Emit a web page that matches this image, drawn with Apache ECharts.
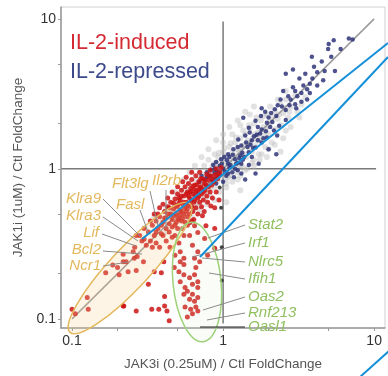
<!DOCTYPE html>
<html><head><meta charset="utf-8">
<script src="https://cdn.jsdelivr.net/npm/echarts@6/dist/echarts.min.js"></script>
<style>html,body{margin:0;padding:0;background:#fff}#c{width:388px;height:376px}</style>
</head><body><div id="c"></div>
<script>
// ---- data (fold changes: [JAK3i, JAK1i]) ----
const xTickLabels = [0.1, 1, 10];
const yTickLabels = [0.1, 1, 10];
const minorTicks = [0.1, 0.2, 0.5, 1, 2, 5, 10];

const background = [
[0.45,0.52],[0.5,0.6],[0.55,0.5],[0.58,0.68],[0.6,0.62],[0.62,0.75],[0.65,0.58],[0.66,0.7],[0.68,0.8],[0.7,0.66],
[0.72,0.74],[0.74,0.86],[0.75,0.7],[0.77,0.92],[0.78,0.78],[0.8,0.72],[0.8,0.88],[0.82,0.98],[0.84,0.8],[0.85,1.05],
[0.86,0.9],[0.88,0.76],[0.9,1.1],[0.9,0.95],[0.92,0.84],[0.93,1.2],[0.95,1.0],[0.96,0.88],[0.98,1.15],[1.0,0.92],
[1.0,1.3],[1.02,1.05],[1.04,0.86],[1.05,1.22],[1.07,0.98],[1.1,1.4],[1.1,1.1],[1.12,0.9],[1.15,1.28],[1.17,1.05],
[1.2,1.5],[1.2,1.18],[1.22,0.95],[1.25,1.35],[1.28,1.12],[1.3,1.6],[1.32,1.25],[1.35,1.02],[1.38,1.45],[1.4,1.7],
[1.42,1.2],[1.45,1.55],[1.5,1.35],[1.5,1.85],[1.55,1.1],[1.58,1.6],[1.6,2.0],[1.65,1.42],[1.7,1.75],[1.72,1.25],
[1.78,2.1],[1.8,1.55],[1.85,1.9],[1.9,1.4],[1.95,2.3],[2.0,1.7],[2.05,2.05],[2.1,1.5],[2.2,2.4],[2.25,1.85],
[2.3,2.15],[2.4,2.7],[2.45,1.95],[2.5,2.35],[2.6,2.9],[2.7,2.2],[2.8,2.6],[3.0,3.1],[3.1,2.4],[0.4,0.45],
[0.42,0.38],[0.48,0.44],[0.52,0.56],[0.38,0.42],[0.56,0.46],[0.64,0.54],[0.7,0.56],[0.76,0.64],[0.82,0.66],[0.66,0.85],
[0.7,0.95],[0.6,0.8],[0.55,0.72],[0.5,0.66],[1.25,0.85],[1.4,0.98],[1.6,1.15],[1.8,1.25],[2.0,1.35],[0.88,1.25],
[0.8,1.15],[0.75,1.05],[1.0,1.5],[1.15,1.7],[1.3,1.95],[1.5,2.3],[2.6,1.8],[3.3,2.7],[3.5,3.0],[1.05,0.75],
[1.3,1.05],[1.05,0.6],[1.3,0.72],[2.4,1.3],
[0.35,0.48],[0.42,0.55],[0.48,0.7],[0.55,0.85],[0.6,0.95],[0.65,1.05],[0.72,1.2],[0.8,1.35],[0.9,1.55],[1.0,1.7],
[1.1,1.9],[1.25,2.1],[1.4,2.4],[1.6,2.6],[0.62,0.48],[0.7,0.52],[0.78,0.58],[0.88,0.62],[0.95,0.7],[1.05,0.8],
[1.15,0.82],[1.3,0.9],[1.45,1.0],[1.6,1.05],[1.75,1.15],[1.95,1.2],[2.2,1.45],[2.5,1.6],[2.8,1.9],[3.2,2.2],
[0.85,0.95],[0.92,1.02],[0.97,0.97],[1.03,1.12],[1.08,0.88],[1.13,1.15],[1.18,1.22],[1.23,1.02],[1.27,1.3],[1.34,1.38],
[1.4,1.25],[1.46,1.48],[1.52,1.5],[1.56,1.3],[1.62,1.7],[1.68,1.55],[1.74,1.62],[1.84,1.72],[1.92,1.85],[2.02,1.92],
[2.12,2.2],[2.35,2.3],[2.55,2.55],[2.75,2.4],[0.74,0.78],[0.79,0.82],[0.83,0.74],[0.87,1.08],[0.94,1.28],[1.02,1.38],
[0.68,0.6],[0.58,0.58],[0.52,0.5],[0.46,0.52],[0.44,0.48],[1.12,1.48],[1.22,1.62],[1.36,1.8],[1.48,1.95],[1.66,2.2],
[1.86,2.25],[2.05,2.6],[2.3,2.9],[2.6,3.3]
];

const repressed = [
[6.8,7.4],[7.2,7.3],[5.4,7.2],[5.0,6.8],[4.96,6.3],[3.87,5.6],[4.5,5.2],[5.5,4.5],[4.7,4.5],[4.2,4.4],
[2.9,4.6],[2.6,4.3],[3.5,4.3],[3.2,4.0],[3.9,4.0],[4.6,3.9],[3.75,3.7],[3.6,3.4],[2.9,3.5],[2.5,3.3],
[3.3,3.2],[3.1,3.05],[3.75,3.2],[3.6,2.9],[2.7,3.05],[2.4,2.9],[2.3,2.66],[2.75,2.66],[3.05,2.54],[2.6,2.47],
[1.8,2.54],[2.08,2.36],[1.36,2.19],[1.78,2.25],[2.25,2.25],[2.6,2.12],[1.64,2.09],[1.95,2.03],[2.35,1.94],[1.48,1.88],
[1.8,1.83],[2.17,1.8],[1.67,1.69],[1.4,1.67],[1.95,1.62],[2.28,1.67],[1.55,1.55],[1.26,1.57],[1.8,1.5],[1.32,1.43],
[1.64,1.39],[1.17,1.35],[2.0,1.35],[1.48,1.29],[1.08,1.25],[1.3,1.23],[0.97,1.16],[1.2,1.16],[1.55,1.2],[0.9,1.11],
[1.08,1.08],[1.32,1.08],[0.86,1.06],[1.0,1.0],[1.2,1.0],[1.48,1.06],[1.72,1.08],[0.83,0.985],[1.08,0.93],[1.32,0.93],
[0.93,0.89],[1.64,0.93],[1.0,0.82],[1.4,0.85],[2.25,1.25],[2.45,2.6],[2.2,2.5],[2.0,2.2],[1.9,2.4],[3.4,3.6],
[3.0,3.3],[3.3,2.8],[2.8,2.9],[1.5,1.75],[1.7,1.9],[1.25,1.4],[1.1,1.2],[0.95,1.05],[0.88,0.95],[0.8,0.9],
[0.75,0.85],[0.78,0.95],[0.7,0.82],[0.9,0.8],[1.05,0.9],[1.15,0.95],[1.25,1.1],[1.35,1.15],[1.45,1.4],[1.6,1.65],
[0.72,0.9],[0.85,0.84],[0.95,0.92],[1.1,1.02],[6.0,6.3],[3.0,2.7],[4.2,3.6],[4.0,4.8],[5.2,5.6],
[0.82,0.9],[0.88,1.0],[0.92,0.96],[0.98,1.08],[1.03,0.96],[1.06,1.14],[1.12,1.06],[1.16,1.24],[1.22,1.08],[1.28,1.18],
[1.34,1.28],[1.38,1.2],[1.42,1.5],[1.52,1.45],[1.58,1.38],[1.7,1.55],[1.76,1.72],[1.85,1.6],[1.92,1.78],[2.05,1.9],
[2.12,2.05],[1.02,1.2],[0.9,0.86],[0.78,0.88],[1.18,0.88],[1.25,0.98]
];

const induced = [
[0.32,0.38],[0.34,0.42],[0.35,0.36],[0.36,0.45],[0.37,0.4],[0.38,0.48],[0.39,0.37],[0.4,0.44],[0.41,0.52],[0.42,0.4],
[0.42,0.47],[0.43,0.56],[0.44,0.43],[0.45,0.5],[0.45,0.6],[0.46,0.46],[0.47,0.54],[0.48,0.42],[0.48,0.63],[0.49,0.5],
[0.5,0.57],[0.5,0.68],[0.51,0.46],[0.52,0.53],[0.52,0.62],[0.53,0.72],[0.54,0.58],[0.55,0.5],[0.55,0.66],[0.56,0.76],
[0.57,0.6],[0.58,0.54],[0.58,0.7],[0.59,0.8],[0.6,0.64],[0.6,0.58],[0.61,0.74],[0.62,0.85],[0.63,0.68],[0.64,0.6],
[0.65,0.78],[0.66,0.9],[0.67,0.72],[0.68,0.64],[0.69,0.82],[0.7,0.95],[0.71,0.76],[0.72,0.68],[0.73,0.86],[0.75,0.8],
[0.76,0.72],[0.78,0.92],[0.8,0.84],[0.82,0.98],[0.84,0.78],[0.86,0.9],[0.9,1.0],[0.92,0.86],[0.95,0.95],[0.44,0.38],
[0.46,0.35],[0.5,0.4],[0.53,0.45],[0.56,0.44],[0.6,0.5],[0.63,0.52],[0.66,0.55],[0.7,0.6],[0.74,0.62],[0.78,0.66],
[0.82,0.7],[0.4,0.58],[0.43,0.64],[0.46,0.7],[0.5,0.76],[0.54,0.82],[0.57,0.88],[0.62,0.95],[0.35,0.5],[0.38,0.55],
[0.3,0.34],[0.33,0.33],[0.36,0.32],[0.52,0.49],[0.57,0.52],[0.62,0.62],[0.65,0.66],[0.68,0.7],[0.72,0.74],[0.47,0.59],
[0.51,0.64],[0.55,0.6],[0.59,0.66],[0.61,0.7],[0.64,0.73],[0.67,0.78],[0.49,0.44],[0.54,0.47],[0.58,0.48],
[0.26,0.3],[0.28,0.36],[0.3,0.4],[0.31,0.31],[0.33,0.45],[0.34,0.3],[0.36,0.38],[0.37,0.5],[0.39,0.42],[0.4,0.36],
[0.41,0.47],[0.43,0.5],[0.44,0.55],[0.46,0.41],[0.47,0.49],[0.49,0.56],[0.5,0.47],[0.51,0.59],[0.53,0.52],[0.53,0.66],
[0.56,0.55],[0.57,0.68],[0.59,0.57],[0.6,0.7],[0.62,0.56],[0.63,0.77],[0.65,0.62],[0.66,0.7],[0.69,0.66],[0.7,0.74],
[0.71,0.86],[0.74,0.7],[0.76,0.84],[0.77,0.78],[0.8,0.76],[0.81,0.9],[0.84,0.86],[0.87,0.82],[0.9,0.92],[0.93,0.9],
[0.97,1.02],[0.64,0.46],[0.68,0.5],[0.72,0.56],[0.75,0.52],[0.79,0.6],[0.85,0.64],[0.9,0.7],[0.94,0.62],[0.88,0.55],
[0.58,0.42],[0.62,0.45],[0.54,0.4],[0.48,0.36],[0.42,0.33],[0.38,0.3],
[0.266,0.36],[0.29,0.33],[0.218,0.27],[0.228,0.24],[0.254,0.28],[0.205,0.197],[0.235,0.206],[0.266,0.21],[0.297,0.24],[0.32,0.17],
[0.218,0.122],[0.266,0.113],[0.337,0.116],[0.375,0.116],[0.41,0.122],[0.425,0.113],[0.44,0.097],[0.39,0.203],[0.35,0.206],[0.405,0.24],
[0.41,0.141],[0.475,0.22],[0.48,0.266],[0.445,0.3],[0.51,0.32],[0.52,0.28],[0.55,0.36],[0.6,0.36],[0.52,0.24],[0.55,0.23],
[0.51,0.206],[0.55,0.197],[0.6,0.188],[0.52,0.177],[0.56,0.162],[0.58,0.153],[0.627,0.146],[0.55,0.146],[0.6,0.135],[0.647,0.131],
[0.68,0.139],[0.56,0.12],[0.61,0.116],[0.66,0.12],[0.627,0.108],[0.68,0.113],[0.58,0.103],[0.55,0.254],[0.627,0.31],[0.68,0.28],
[0.647,0.254],[0.7,0.24],[0.66,0.22],[0.647,0.197],[0.68,0.177],[0.627,0.17],[0.68,0.162],[0.647,0.418],[0.6,0.437],[0.68,0.376],
[0.755,0.343],[0.77,0.418],[0.73,0.486],[0.79,0.266],[0.88,0.296],[0.88,0.4],[0.83,0.565],
[0.1,0.116],[0.105,0.108],[0.126,0.139],[0.128,0.116],[0.186,0.229],[0.2,0.22],[0.218,0.24],[0.167,0.203],[0.22,0.122],[0.258,0.254],[0.27,0.26]
];

const otherDark = [[0.98,0.3],[0.98,0.18],[0.97,0.55],[0.95,0.75]];

const diagonalRef = [[0.1,0.1],[10,10]];
const verticalRef = [[1,0.093],[1,9.6]];
const horizontalRef = [[0.085,1],[10.3,1]];

const inducedGenes = ['Klra9','Klra3','Lif','Bcl2','Ncr1','Flt3lg','Fasl','Il2rb'];
const ifnGenes = ['Stat2','Irf1','Nlrc5','Ifih1','Oas2','Rnf213','Oasl1'];

// ---- chart ----
const chart = echarts.init(document.getElementById('c'), null, {renderer:'canvas'});
const FONT = 'Liberation Sans, Arial, sans-serif';
const ORANGE = '#e3b85c', GREEN = '#8fbf5f';

function axisCommon(labels){
  return {
    type:'log', logBase:10,
    axisLine:{show:true, lineStyle:{color:'#999', width:1.5}},
    axisTick:{show:true, length:3, lineStyle:{color:'#999'}, customValues:minorTicks},
    axisLabel:{customValues:labels, color:'#333', fontSize:14, fontFamily:FONT,
      formatter:v=>String(+(+v).toPrecision(3))},
    splitLine:{show:false}, minorTick:{show:false}
  };
}

const xAxis = Object.assign(axisCommon(xTickLabels), {
  min:0.0845, max:11.8,
  name:'JAK3i (0.25uM) / Ctl FoldChange', nameLocation:'middle', nameGap:29,
  nameTextStyle:{fontSize:13.5, color:'#555', fontFamily:FONT}
});
xAxis.axisLabel.margin = 6;
const yAxis = Object.assign(axisCommon(yTickLabels), {
  min:0.0869, max:12.0,
  name:'JAK1i (1uM) / Ctl FoldChange', nameLocation:'middle', nameGap:27,
  nameTextStyle:{fontSize:13.5, color:'#555', fontFamily:FONT}
});
yAxis.axisLabel.margin = 5;

const gfx = [];
function txt(t, x, y, color, align, size, italic){
  gfx.push({type:'text', x, y, z:100, style:{text:t, fill:color, font:(italic?'italic ':'')+size+'px '+FONT, textAlign:align, textVerticalAlign:'middle'}});
}
function ln(x1,y1,x2,y2,color,w,z){
  gfx.push({type:'line', z:z||90, shape:{x1,y1,x2,y2}, style:{stroke:color, lineWidth:w}});
}
// legend texts
txt('IL-2-induced', 70, 43, '#d42a33', 'left', 21.5);
txt('IL-2-repressed', 70, 72, '#3c4a8c', 'left', 21.5);
// ellipses
gfx.push({type:'ellipse', x:130, y:268, rotation:0.82, z:5, shape:{cx:0,cy:0,rx:88,ry:20},
  style:{fill:'rgba(245,205,140,0.22)', stroke:ORANGE, lineWidth:1.5}});
gfx.push({type:'ellipse', x:197, y:282, rotation:0.1, z:5, shape:{cx:0,cy:0,rx:24,ry:60},
  style:{fill:'rgba(210,240,190,0.12)', stroke:'#9dd27a', lineWidth:1.5}});
// induced gene labels + leaders
const oL = [[103,199,140,236],[103,217,138,241],[102,234,136,246],[103,251,142,254],[103,266,128,262],[150,191,158,226],[140,210,148,232],[166,190,166,228]];
const oT = [[101,199,'right'],[101,216,'right'],[99,233,'right'],[101,250,'right'],[101,266,'right'],[112,184,'left'],[116,205,'left'],[152,181,'left']];
inducedGenes.forEach((g,i)=>{ ln(...oL[i],'#8a8a8a',1); txt(g,oT[i][0],oT[i][1],ORANGE,oT[i][2],15,true); });
const gY = [225,243,262,279,297,313,327];
const gEnd = [[208,238],[192,257],[202,258],[209,273],[203,310],[207,320],[200,327]];
ifnGenes.forEach((g,i)=>{ ln(245,gY[i],gEnd[i][0],gEnd[i][1], i===6?'#222':'#8a8a8a',1); txt(g,248,gY[i],GREEN,'left',15,true); });
// overlaid blue annotation strokes
ln(142,239,388,43,'#1590d8',2,200);
ln(200,257,388,57,'#1590d8',2,200);
ln(360,377,390,350,'#1590d8',2,200);

function sc(name,data,color,size,op,z){
  return {type:'scatter', name, data, symbolSize:size, z, silent:true,
    itemStyle:{color, opacity:op}};
}
function refLine(data,color,w,z){
  return {type:'line', data, symbol:'none', z:z||1, silent:true, lineStyle:{color, width:w}};
}

chart.setOption({
  animation:false,
  grid:{left:61, top:7, width:324, height:328, show:true, borderColor:'#d0d0d0', borderWidth:1},
  xAxis, yAxis,
  series:[
    refLine(verticalRef,'#7a7a7a',1.5),
    refLine(horizontalRef,'#7a7a7a',1.5),
    sc('background',background,'#bdbdbd',6,0.45,2),
    refLine(diagonalRef,'#9a9a9a',1.5,2.5),
    sc('repressed',repressed,'#2f3479',4.5,0.85,3),
    sc('other',otherDark,'#333',4,0.9,3),
    sc('induced',induced,'#cc1414',5,0.85,4)
  ],
  graphic:gfx
});
</script></body></html>
